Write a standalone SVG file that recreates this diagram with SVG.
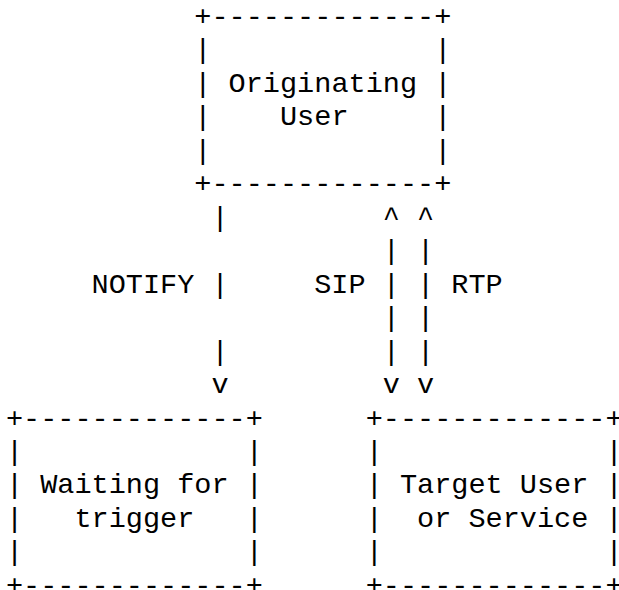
<svg xmlns="http://www.w3.org/2000/svg" width="619" height="590" viewBox="0 0 619 590">
<style>
text{font-family:"Courier New","Liberation Mono",monospace;font-size:28.55px;fill:#000;white-space:pre}
</style>
<rect width="619" height="590" fill="#fff"/>
<g id="originating-user">
<text x="194.33" y="25">+-------------+</text>
<text x="194.33" y="58.46">|             |</text>
<text x="194.33" y="91.92">| Originating |</text>
<text x="194.33" y="125.38">|    User     |</text>
<text x="194.33" y="158.84">|             |</text>
<text x="194.33" y="192.3">+-------------+</text>
</g>
<g id="waiting-for-trigger">
<text x="5.9" y="426.52">+-------------+</text>
<text x="5.9" y="459.98">|             |</text>
<text x="5.9" y="493.44">| Waiting for |</text>
<text x="5.9" y="526.9">|   trigger   |</text>
<text x="5.9" y="560.36">|             |</text>
<text x="5.9" y="593.82">+-------------+</text>
</g>
<g id="target-user">
<text x="365.63" y="426.52">+-------------+</text>
<text x="365.63" y="459.98">|             |</text>
<text x="365.63" y="493.44">| Target User |</text>
<text x="365.63" y="526.9">|  or Service |</text>
<text x="365.63" y="560.36">|             |</text>
<text x="365.63" y="593.82">+-------------+</text>
</g>
<g id="connectors">
<g id="notify">
<text x="211.46" y="225.76">|</text>
<text x="91.55" y="292.68">NOTIFY |</text>
<text x="211.46" y="359.6">|</text>
<text x="211.46" y="393.06">v</text>
</g>
<g id="sip">
<text x="382.76" y="225.76">^</text>
<text x="382.76" y="259.22">|</text>
<text x="314.24" y="292.68">SIP |</text>
<text x="382.76" y="326.14">|</text>
<text x="382.76" y="359.6">|</text>
<text x="382.76" y="393.06">v</text>
</g>
<g id="rtp">
<text x="417.02" y="225.76">^</text>
<text x="417.02" y="259.22">|</text>
<text x="417.02" y="292.68">| RTP</text>
<text x="417.02" y="326.14">|</text>
<text x="417.02" y="359.6">|</text>
<text x="417.02" y="393.06">v</text>
</g>
</g>
</svg>
